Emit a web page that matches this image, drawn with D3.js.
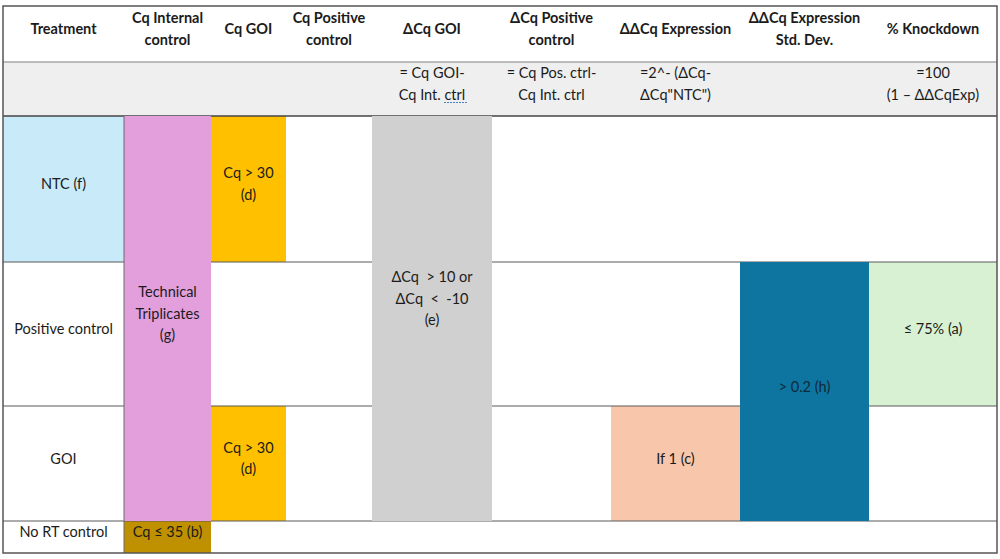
<!DOCTYPE html>
<html><head><meta charset="utf-8">
<script src="https://cdn.jsdelivr.net/npm/d3@7"></script>
<style>
html,body{margin:0;padding:0;background:#fff;}
svg{display:block;font-family:Lato,"Open Sans",sans-serif;}
text{white-space:pre;}
</style></head><body>
<svg id="chart" width="1000" height="559"></svg>
<script>
// ---- data ----
const columns = ["treat","cqInt","cqGoi","cqPos","dcqGoi","dcqPos","ddcqExp","ddcqSd","kd"];
const headerLabels = [
  ["Treatment"], ["Cq Internal","control"], ["Cq GOI"], ["Cq Positive","control"],
  ["ΔCq GOI"], ["ΔCq Positive","control"], ["ΔΔCq Expression"], ["ΔΔCq Expression","Std. Dev."], ["% Knockdown"]
];
const formulaLabels = [
  [], [], [], [], ["= Cq GOI-","Cq Int. ctrl"], ["= Cq Pos. ctrl-","Cq Int. ctrl"],
  ["=2^- (ΔCq-","ΔCq\"NTC\")"], [], ["=100","(1 – ΔΔCqExp)"]
];
const rowsList = ["header","formula","NTC","Pos","GOI","NoRT"];
const treatmentLabels = ["NTC (f)","Positive control","GOI","No RT control"];
// cells: [firstCol, lastCol, firstRow, lastRow, colorKey, text lines]
const cells = [
  ["treat","treat","NTC","NTC","ntc",["NTC (f)"]],
  ["cqInt","cqInt","NTC","GOI","pink",["Technical","Triplicates","(g)"]],
  ["cqGoi","cqGoi","NTC","NTC","orange",["Cq > 30","(d)"]],
  ["dcqGoi","dcqGoi","NTC","GOI","gray",["ΔCq  > 10 or","ΔCq  <  -10","(e)"]],
  ["ddcqSd","ddcqSd","Pos","GOI","teal",["> 0.2 (h)"]],
  ["kd","kd","Pos","Pos","green",["≤ 75% (a)"]],
  ["cqGoi","cqGoi","GOI","GOI","orange",["Cq > 30","(d)"]],
  ["ddcqExp","ddcqExp","GOI","GOI","peach",["If 1 (c)"]],
  ["cqInt","cqInt","NoRT","NoRT","gold",["Cq ≤ 35 (b)"]]
];

// ---- layout (not data) ----
const colWidths = [121,87,75,86,120,119,129,129,128];
const rowHeights = [56,54,146,144,115,32];
const X0 = 3, Y0 = 6;
const colors = {ntc:"#c9eaf8",pink:"#e29fdc",orange:"#ffc000",gray:"#d0d0d0",teal:"#0e74a0",
  green:"#d8f1d2",peach:"#f7c6ab",gold:"#bf9000"};
const textShift = {gray:-15, pink:0};
const FS = 14.5;

const xEdges = d3.cumsum([X0].concat(colWidths));
const yEdges = d3.cumsum([Y0].concat(rowHeights));
const x = d3.scaleOrdinal().domain(columns).range(Array.from(xEdges.slice(0,-1)));
const xEnd = d3.scaleOrdinal().domain(columns).range(Array.from(xEdges.slice(1)));
const y = d3.scaleOrdinal().domain(rowsList).range(Array.from(yEdges.slice(0,-1)));
const yEnd = d3.scaleOrdinal().domain(rowsList).range(Array.from(yEdges.slice(1)));

const svg = d3.select("#chart");
const W = xEdges[xEdges.length-1], B = yEdges[yEdges.length-1];
const lineH = 21.5;

function multiText(g, cx, cy, lines, opts={}){
  const t = g.append("text").attr("text-anchor","middle")
    .attr("font-size", opts.size||FS).attr("font-weight", opts.bold?"bold":"normal")
    .attr("fill", opts.fill||"#1b1b1b");
  const n = lines.length;
  lines.forEach((s,i)=>{
    t.append("tspan").attr("x",cx).attr("y", cy + (i-(n-1)/2)*lineH).text(s);
  });
  return t;
}

svg.append("rect").attr("x",X0).attr("y",y("formula")).attr("width",W-X0)
  .attr("height",yEnd("formula")-y("formula")).attr("fill","#efefef");

const single = cells.filter(c=>c[2]===c[3]);
const multi = cells.filter(c=>c[2]!==c[3]);

function drawCells(list){
  list.forEach(c=>{
    const x0=x(c[0]), x1=xEnd(c[1]), y0=y(c[2]), y1=yEnd(c[3]);
    svg.append("rect").attr("x",x0).attr("y",y0).attr("width",x1-x0).attr("height",y1-y0)
      .attr("fill",colors[c[4]]);
  });
}
drawCells(single);

const lineCol = "#5a5a5a";
["formula","NTC"].forEach(r=>{
  svg.append("line").attr("x1",X0).attr("x2",W).attr("y1",y(r)).attr("y2",y(r))
    .attr("stroke", r==="NTC"?"#444":"#a8a8a8").attr("stroke-width",1.3);
});
["Pos","GOI","NoRT"].forEach(r=>{
  svg.append("line").attr("x1",X0).attr("x2",W).attr("y1",y(r)).attr("y2",y(r))
    .attr("stroke",lineCol).attr("stroke-width",1.2);
});
drawCells(multi);
svg.append("line").attr("x1",x("cqInt")).attr("x2",x("cqInt")).attr("y1",y("NTC")).attr("y2",B)
  .attr("stroke","#6a6a6a").attr("stroke-width",1);
svg.append("rect").attr("x",X0).attr("y",Y0).attr("width",W-X0).attr("height",B-Y0)
  .attr("fill","none").attr("stroke","#555").attr("stroke-width",1.5);

columns.forEach((c,i)=>{
  const cx=(x(c)+xEnd(c))/2;
  multiText(svg,cx,(y("header")+yEnd("header"))/2,headerLabels[i],{bold:true});
  if(formulaLabels[i].length){
    multiText(svg,cx,(y("formula")+yEnd("formula"))/2,formulaLabels[i]);
  }
});
{
  const cx=(x("dcqGoi")+xEnd("dcqGoi"))/2;
  svg.append("line").attr("x1",cx+12).attr("x2",cx+35).attr("y1",102.5).attr("y2",102.5)
    .attr("stroke","#4a7fd0").attr("stroke-width",1.2).attr("stroke-dasharray","2,1");
}
rowsList.slice(2).forEach((r,i)=>{
  if(r==="NTC") return;
  multiText(svg,(x("treat")+xEnd("treat"))/2,(y(r)+yEnd(r))/2,[treatmentLabels[i]]);
});
cells.forEach(c=>{
  const cx=(x(c[0])+xEnd(c[1]))/2, cy=(y(c[2])+yEnd(c[3]))/2+(textShift[c[4]]||0);
  multiText(svg,cx,cy,c[5],{fill:c[4]==="teal"?"#0f2a3a":"#1b1b1b"});
});
</script>
</body></html>
